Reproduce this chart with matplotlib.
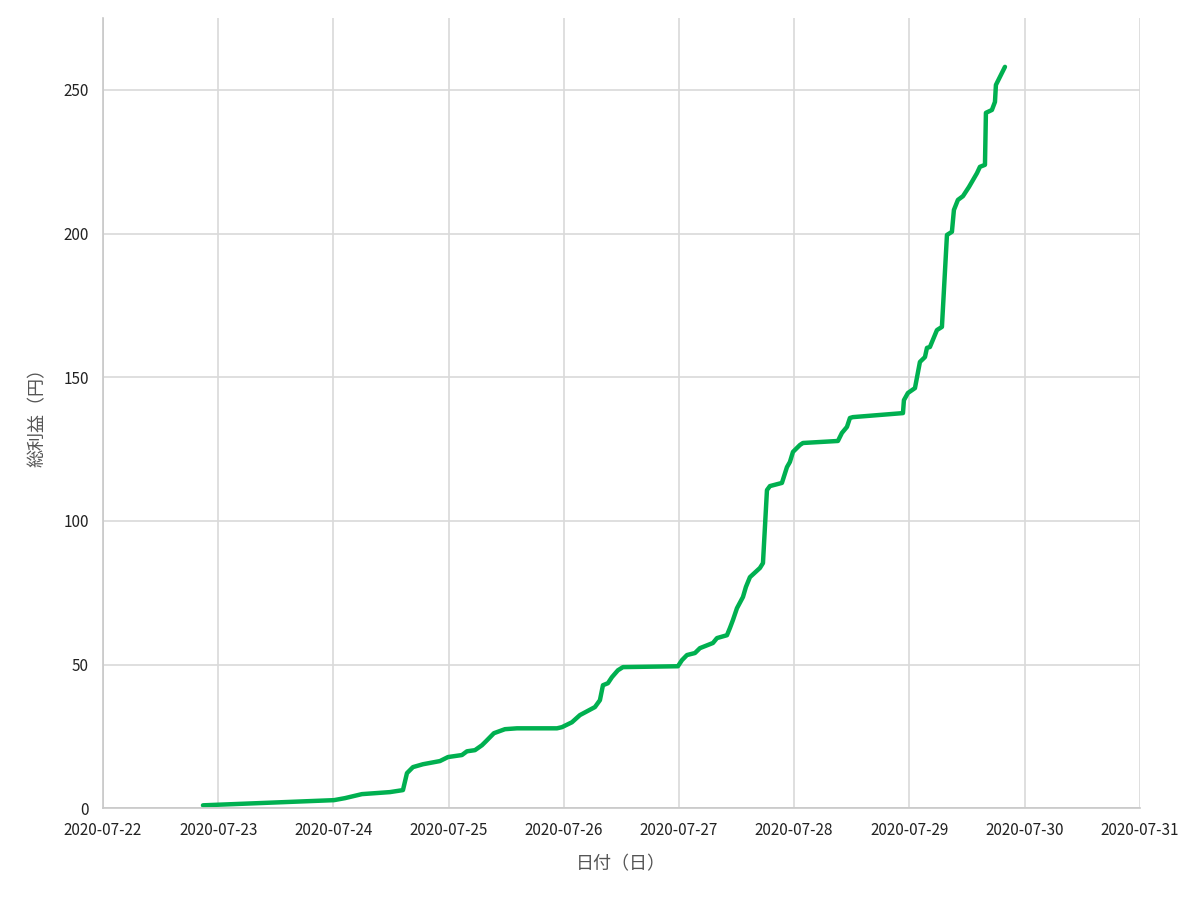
import matplotlib
matplotlib.use("Agg")
import matplotlib.pyplot as plt
import matplotlib.dates as mdates
import pandas as pd

plt.rcParams['font.family'] = ['Noto Sans CJK JP', 'DejaVu Sans']

# 日時と総利益
times = [
    "2020-07-22 20:50", "2020-07-24 00:07", "2020-07-24 02:25", "2020-07-24 05:57",
    "2020-07-24 11:47", "2020-07-24 14:30", "2020-07-24 15:20", "2020-07-24 16:35",
    "2020-07-24 18:40", "2020-07-24 22:12", "2020-07-24 23:53", "2020-07-25 02:47",
    "2020-07-25 03:50", "2020-07-25 05:30", "2020-07-25 06:57", "2020-07-25 07:48",
    "2020-07-25 09:27", "2020-07-25 11:45", "2020-07-25 14:15", "2020-07-25 22:35",
    "2020-07-25 23:37", "2020-07-26 01:42", "2020-07-26 03:22", "2020-07-26 06:30",
    "2020-07-26 07:32", "2020-07-26 08:10", "2020-07-26 09:12", "2020-07-26 10:02",
    "2020-07-26 11:17", "2020-07-26 12:20", "2020-07-26 23:47",
    "2020-07-27 00:37", "2020-07-27 01:40", "2020-07-27 03:20", "2020-07-27 04:22",
    "2020-07-27 07:05", "2020-07-27 07:55", "2020-07-27 10:00", "2020-07-27 10:37",
    "2020-07-27 11:15", "2020-07-27 12:05", "2020-07-27 13:20", "2020-07-27 13:57",
    "2020-07-27 14:47", "2020-07-27 16:52", "2020-07-27 17:30", "2020-07-27 18:20",
    "2020-07-27 18:57", "2020-07-27 21:27", "2020-07-27 22:30", "2020-07-27 23:07",
    "2020-07-27 23:45", "2020-07-28 01:12", "2020-07-28 01:50", "2020-07-28 09:07",
    "2020-07-28 09:57", "2020-07-28 11:00", "2020-07-28 11:37", "2020-07-28 12:14",
    "2020-07-28 22:40", "2020-07-28 22:52", "2020-07-28 23:42",
    "2020-07-29 01:10", "2020-07-29 02:12", "2020-07-29 03:15", "2020-07-29 03:40",
    "2020-07-29 04:17", "2020-07-29 05:45", "2020-07-29 06:47", "2020-07-29 07:50",
    "2020-07-29 08:52", "2020-07-29 09:17", "2020-07-29 10:07", "2020-07-29 11:10",
    "2020-07-29 12:25", "2020-07-29 14:05", "2020-07-29 14:42", "2020-07-29 15:45",
    "2020-07-29 15:57", "2020-07-29 17:12", "2020-07-29 17:50", "2020-07-29 18:02",
    "2020-07-29 18:52", "2020-07-29 19:55",
]
profit = [
    1.0, 2.8, 3.5, 4.9,
    5.6, 6.3, 12.2, 14.3,
    15.3, 16.4, 17.8, 18.5,
    19.8, 20.2, 21.9, 23.3,
    26.1, 27.5, 27.8, 27.8,
    28.2, 29.9, 32.4, 35.2,
    37.6, 42.8, 43.5, 45.6,
    48.0, 49.1, 49.4,
    51.5, 53.3, 54.0, 55.7,
    57.5, 59.2, 60.2, 62.7,
    65.5, 69.6, 73.5, 77.0,
    80.4, 83.6, 85.3, 110.7,
    112.1, 113.2, 118.7, 120.5,
    124.0, 126.4, 127.1, 127.8,
    130.6, 132.7, 135.8, 136.1,
    137.5, 142.0, 144.5,
    146.2, 155.3, 157.0, 160.2,
    160.5, 166.4, 167.5, 199.5,
    200.6, 208.2, 211.7, 213.0,
    216.2, 221.0, 223.2, 223.9,
    242.0, 243.0, 245.8, 251.7,
    254.5, 258.0,
]

df = pd.DataFrame({"time": pd.to_datetime(times), "profit": profit})

fig = plt.figure(figsize=(12, 9), dpi=100)
ax = fig.add_axes([0.0858, 0.102, 0.864, 0.878])

ax.plot(df["time"], df["profit"], color="#00B050", linewidth=3.2,
        solid_capstyle="round", solid_joinstyle="round")

ax.set_xlim(pd.Timestamp("2020-07-22"), pd.Timestamp("2020-07-31"))
ax.set_ylim(0, 275)
ax.set_yticks([0, 50, 100, 150, 200, 250])
ax.xaxis.set_major_locator(mdates.DayLocator())
ax.xaxis.set_major_formatter(mdates.DateFormatter("%Y-%m-%d"))

ax.grid(True, color="#d9d9d9", linewidth=1.2)
ax.set_axisbelow(True)
for s in ["top", "right"]:
    ax.spines[s].set_visible(False)
for s in ["left", "bottom"]:
    ax.spines[s].set_color("#c8c8c8")
    ax.spines[s].set_linewidth(1.2)

ax.tick_params(length=0, labelsize=11, colors="#222222", pad=10)
ax.set_xlabel("日付（日）", fontsize=13, color="#555555", labelpad=12)
ax.set_ylabel("総利益（円）", fontsize=13, color="#555555", labelpad=12)

fig.savefig("out.png", dpi=100)
